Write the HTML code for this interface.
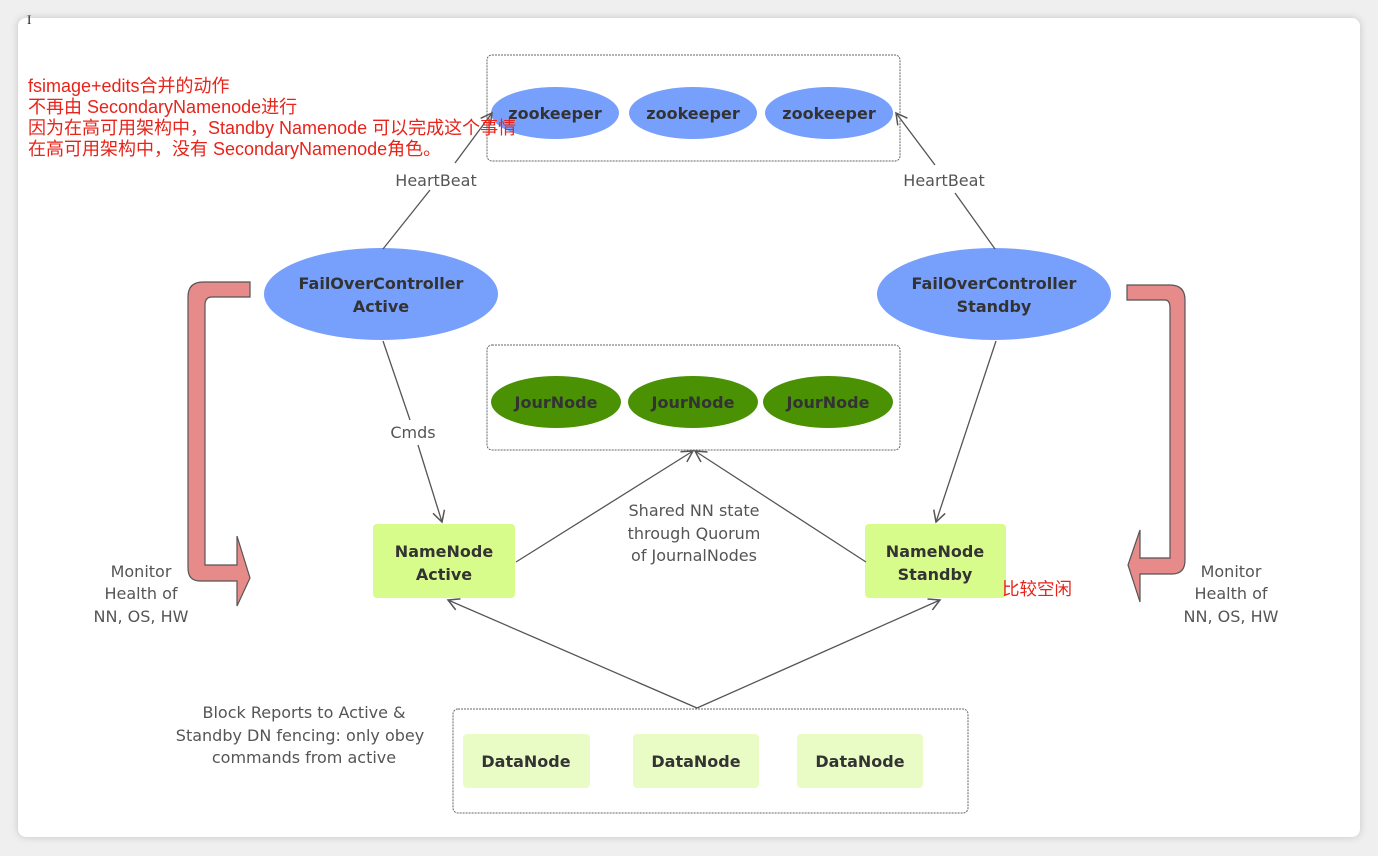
<!DOCTYPE html>
<html><head><meta charset="utf-8"><style>
html,body{margin:0;padding:0;width:1378px;height:856px;overflow:hidden;background:#efefef;}
.card{position:absolute;left:18px;top:18px;width:1342px;height:819px;background:#fff;border-radius:8px;box-shadow:0 0 8px rgba(0,0,0,0.18);}
svg{position:absolute;left:0;top:0;}
.t{font-family:"Comic Sans MS","DejaVu Sans","Liberation Sans",sans-serif;}
.b{font-weight:bold;fill:#333;font-size:16px;}
.g{fill:#555;font-size:16px;}
.red{position:absolute;left:28px;top:76px;color:#e8231a;font-family:"Liberation Sans","Noto Sans CJK SC",sans-serif;font-size:18px;line-height:21px;white-space:nowrap;}
</style></head><body>
<div class="card"></div>
<svg width="1378" height="856" viewBox="0 0 1378 856">
<defs><marker id="a" markerWidth="14" markerHeight="14" refX="12" refY="7" orient="auto" markerUnits="userSpaceOnUse"><path d="M1,1 L12,7 L1,13" fill="none" stroke="#555" stroke-width="1.5"/></marker></defs>
<g fill="none" stroke="#666" stroke-width="1" stroke-dasharray="2,1">
<rect x="487" y="55" width="413" height="106" rx="5"/>
<rect x="487" y="345" width="413" height="105" rx="5"/>
<rect x="453" y="709" width="515" height="104" rx="5"/>
</g>
<g fill="#779ffc"><ellipse cx="555" cy="113" rx="64" ry="26"/><ellipse cx="693" cy="113" rx="64" ry="26"/><ellipse cx="829" cy="113" rx="64" ry="26"/>
<ellipse cx="381" cy="294" rx="117" ry="46"/><ellipse cx="994" cy="294" rx="117" ry="46"/></g>
<g fill="#4a9104"><ellipse cx="556" cy="402" rx="65" ry="26"/><ellipse cx="693" cy="402" rx="65" ry="26"/><ellipse cx="828" cy="402" rx="65" ry="26"/></g>
<g fill="#d8fc8c"><rect x="373" y="524" width="142" height="74" rx="4"/><rect x="865" y="524" width="141" height="74" rx="4"/></g>
<g fill="#eafcc6"><rect x="463" y="734" width="127" height="54" rx="4"/><rect x="633" y="734" width="126" height="54" rx="4"/><rect x="797" y="734" width="126" height="54" rx="4"/></g>
<g stroke="#555" stroke-width="1.3" fill="none">
<line x1="383" y1="249" x2="430" y2="190"/><line x1="455" y1="163" x2="492" y2="113" marker-end="url(#a)"/>
<line x1="995" y1="249" x2="955" y2="193"/><line x1="935" y1="165" x2="896" y2="113" marker-end="url(#a)"/>
<line x1="383" y1="341" x2="410" y2="420"/><line x1="418" y1="445" x2="442" y2="522" marker-end="url(#a)"/>
<line x1="996" y1="341" x2="936" y2="522" marker-end="url(#a)"/>
<line x1="516" y1="562" x2="693" y2="451" marker-end="url(#a)"/>
<line x1="866" y1="562" x2="695" y2="451" marker-end="url(#a)"/>
<line x1="697" y1="708" x2="448" y2="600" marker-end="url(#a)"/>
<line x1="697" y1="708" x2="940" y2="600" marker-end="url(#a)"/>
</g>
<g fill="#e68a8a" stroke="#555" stroke-width="1.2">
<path d="M250,282 L250,297 L212,297 Q205,297 205,305 L205,565 L237,565 L237,536 L250,578 L237,606 L237,581 L200,581 Q188,581 188,568 L188,297 Q188,282 203,282 Z"/>
<path d="M1127,285 L1127,300 L1165,300 Q1170,300 1170,308 L1170,558 L1140,558 L1140,530 L1128,565 L1140,602 L1140,574 L1172,574 Q1185,574 1185,560 L1185,300 Q1185,285 1170,285 Z"/>
</g>
<g class="t">
<g class="b" text-anchor="middle">
<text x="555" y="119">zookeeper</text><text x="693" y="119">zookeeper</text><text x="829" y="119">zookeeper</text>
<text x="381" y="289">FailOverController</text><text x="381" y="312">Active</text>
<text x="994" y="289">FailOverController</text><text x="994" y="312">Standby</text>
<text x="556" y="408">JourNode</text><text x="693" y="408">JourNode</text><text x="828" y="408">JourNode</text>
<text x="444" y="557">NameNode</text><text x="444" y="580">Active</text>
<text x="935" y="557">NameNode</text><text x="935" y="580">Standby</text>
<text x="526" y="767">DataNode</text><text x="696" y="767">DataNode</text><text x="860" y="767">DataNode</text>
</g>
<g class="g" text-anchor="middle">
<text x="436" y="186">HeartBeat</text><text x="944" y="186">HeartBeat</text>
<text x="413" y="438">Cmds</text>
<text x="694" y="516">Shared NN state</text><text x="694" y="539">through Quorum</text><text x="694" y="561">of JournalNodes</text>
<text x="141" y="577">Monitor</text><text x="141" y="599">Health of</text><text x="141" y="622">NN, OS, HW</text>
<text x="1231" y="577">Monitor</text><text x="1231" y="599">Health of</text><text x="1231" y="622">NN, OS, HW</text>
<text x="304" y="718">Block Reports to Active &amp;</text><text x="300" y="741">Standby DN fencing: only obey</text><text x="304" y="763">commands from active</text>
</g>
</g>
<text x="27" y="24" font-size="13" fill="#222" font-family="Liberation Serif,serif">I</text>
</svg>
<div class="red">fsimage+edits合并的动作<br>不再由 SecondaryNamenode进行<br>因为在高可用架构中，Standby Namenode 可以完成这个事情<br>在高可用架构中，没有 SecondaryNamenode角色。</div>
<div class="red" style="left:1002px;top:579px;font-size:17.5px;">比较空闲</div>
</body></html>
